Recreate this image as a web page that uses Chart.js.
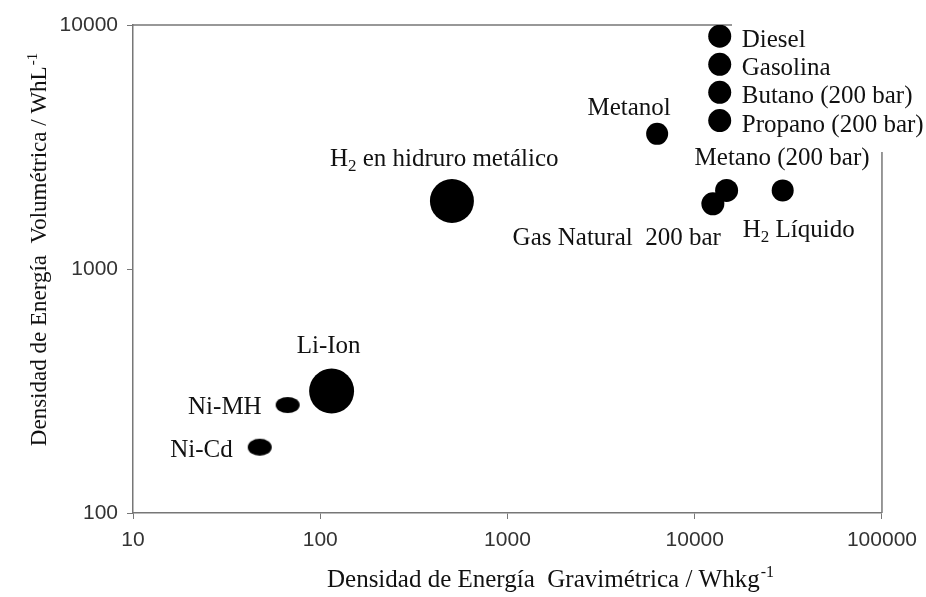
<!DOCTYPE html>
<html>
<head>
<meta charset="utf-8">
<script src="https://cdn.jsdelivr.net/npm/chart.js@4/dist/chart.umd.min.js"></script>
<style>
  html, body { margin: 0; padding: 0; background: #fff; }
  #wrap { width: 926px; height: 597px; }
</style>
</head>
<body>
<div id="wrap"><canvas id="energyChart"></canvas></div>
<script>
// --- data (log-log) ---
const fuels = ['Diesel', 'Gasolina', 'Butano (200 bar)', 'Propano (200 bar)', 'Metanol',
  'Metano (200 bar)', 'Gas Natural  200 bar', 'H₂ Líquido', 'H₂ en hidruro metálico',
  'Li-Ion', 'Ni-MH', 'Ni-Cd'];
const gravimetric = [13600, 13600, 13600, 13600, 6300, 14800, 12500, 29500, 505, 115, 67, 47.5];
const volumetric = [9000, 6900, 5300, 4060, 3580, 2100, 1850, 2100, 1900, 316, 277, 186];
const xTicks = [10, 100, 1000, 10000, 100000];
const yTicks = [100, 1000, 10000];
const xTitle = ['Densidad de Energía  Gravimétrica / Whkg', '-1'];
const yTitle = ['Densidad de Energía  Volumétrica / WhL', '-1'];

// --- styling ---
const dotRadius = [11.5, 11.5, 11.5, 11.5, 11, 11.5, 11.5, 11, 22, 22.5, 12, 12];
// label placement relative to the point: [dx, dy (baseline), align]
const labelPlace = [
  [22, 11, 'left'], [22, 11, 'left'], [22, 11, 'left'], [22, 11, 'left'],
  [-28, -19, 'center'], [-32, -25, 'left'], [8, 41, 'right'], [-40, 47, 'left'],
  [-122, -35, 'left'], [-3, -38, 'center'], [-26, 9, 'right'], [-27, 10, 'right']
];
const LABEL_FONT = 25;
const FRAME_TOP_END = 732;
const FRAME_RIGHT_START = 152;

function ellipseDot(rx, ry) {
  const c = document.createElement('canvas');
  c.width = Math.ceil(rx * 2 + 2);
  c.height = Math.ceil(ry * 2 + 2);
  const g = c.getContext('2d');
  g.fillStyle = '#000';
  g.beginPath();
  g.ellipse(c.width / 2, c.height / 2, rx, ry, 0, 0, Math.PI * 2);
  g.fill();
  return c;
}
const pointStyles = dotRadius.map(() => 'circle');
pointStyles[10] = ellipseDot(12, 8);
pointStyles[11] = ellipseDot(12, 8.5);

// draws text where '₂' becomes a real subscript 2
function drawRich(ctx, text, x, y, align, size) {
  const main = size + 'px "Liberation Serif"';
  const sub = Math.round(size * 0.68) + 'px "Liberation Serif"';
  const parts = text.split('₂');
  let w = 0;
  parts.forEach((p, i) => {
    ctx.font = main; w += ctx.measureText(p).width;
    if (i < parts.length - 1) { ctx.font = sub; w += ctx.measureText('2').width; }
  });
  let cx = align === 'left' ? x : align === 'right' ? x - w : x - w / 2;
  ctx.textAlign = 'left';
  ctx.textBaseline = 'alphabetic';
  parts.forEach((p, i) => {
    ctx.font = main; ctx.fillText(p, cx, y); cx += ctx.measureText(p).width;
    if (i < parts.length - 1) {
      ctx.font = sub; ctx.fillText('2', cx, y + 5); cx += ctx.measureText('2').width;
    }
  });
}

function drawTitle(ctx, parts, x, y, size) {
  ctx.font = size + 'px "Liberation Serif"';
  const w1 = ctx.measureText(parts[0]).width;
  ctx.font = Math.round(size * 0.65) + 'px "Liberation Serif"';
  const w2 = ctx.measureText(parts[1]).width;
  const x0 = x - (w1 + w2) / 2;
  ctx.textAlign = 'left';
  ctx.textBaseline = 'alphabetic';
  ctx.font = size + 'px "Liberation Serif"';
  ctx.fillText(parts[0], x0, y);
  ctx.font = Math.round(size * 0.65) + 'px "Liberation Serif"';
  ctx.fillText(parts[1], x0 + w1 + 1, y - size * 0.4);
}

const annotate = {
  id: 'annotate',
  beforeDatasetsDraw(chart) {
    const { ctx, chartArea: a } = chart;
    ctx.save();
    ctx.strokeStyle = '#777';
    ctx.lineWidth = 1.5;
    ctx.beginPath();
    ctx.moveTo(a.left, a.top);
    ctx.lineTo(FRAME_TOP_END, a.top);
    ctx.moveTo(a.right, FRAME_RIGHT_START);
    ctx.lineTo(a.right, a.bottom);
    ctx.stroke();
    ctx.restore();
  },
  afterDatasetsDraw(chart) {
    const { ctx } = chart;
    const meta = chart.getDatasetMeta(0);
    ctx.save();
    ctx.fillStyle = '#111';
    meta.data.forEach((pt, i) => {
      const [dx, dy, align] = labelPlace[i];
      drawRich(ctx, fuels[i], pt.x + dx, pt.y + dy, align, LABEL_FONT);
    });
    drawTitle(ctx, xTitle, 550, 587, 25);
    ctx.translate(46, 250);
    ctx.rotate(-Math.PI / 2);
    drawTitle(ctx, yTitle, 0, 0, 23);
    ctx.restore();
  }
};

const tickFont = { family: '"Liberation Sans", Arial, sans-serif', size: 21 };

new Chart(document.getElementById('energyChart'), {
  type: 'scatter',
  data: {
    datasets: [{
      data: gravimetric.map((g, i) => ({ x: g, y: volumetric[i] })),
      backgroundColor: '#000',
      borderColor: '#000',
      borderWidth: 0,
      pointRadius: dotRadius,
      pointStyle: pointStyles
    }]
  },
  options: {
    responsive: true,
    maintainAspectRatio: false,
    animation: false,
    events: [],
    layout: { padding: { left: 0, right: 44, top: 25, bottom: 0 } },
    plugins: { legend: { display: false }, tooltip: { enabled: false } },
    scales: {
      x: {
        type: 'logarithmic',
        min: 10,
        max: 100000,
        afterBuildTicks: s => { s.ticks = xTicks.map(v => ({ value: v })); },
        afterFit: s => { s.height = 84; },
        ticks: { font: tickFont, color: '#333', padding: 9, maxRotation: 0, autoSkip: false,
                 callback: v => String(v) },
        grid: { drawOnChartArea: false, color: '#777', tickLength: 6 },
        border: { color: '#777', width: 1.5 }
      },
      y: {
        type: 'logarithmic',
        min: 100,
        max: 10000,
        afterBuildTicks: s => { s.ticks = yTicks.map(v => ({ value: v })); },
        afterFit: s => { s.width = 133; },
        ticks: { font: tickFont, color: '#333', padding: 9, autoSkip: false,
                 callback: v => String(v) },
        grid: { drawOnChartArea: false, color: '#777', tickLength: 6 },
        border: { color: '#777', width: 1.5 }
      }
    }
  },
  plugins: [annotate]
});
</script>
</body>
</html>
